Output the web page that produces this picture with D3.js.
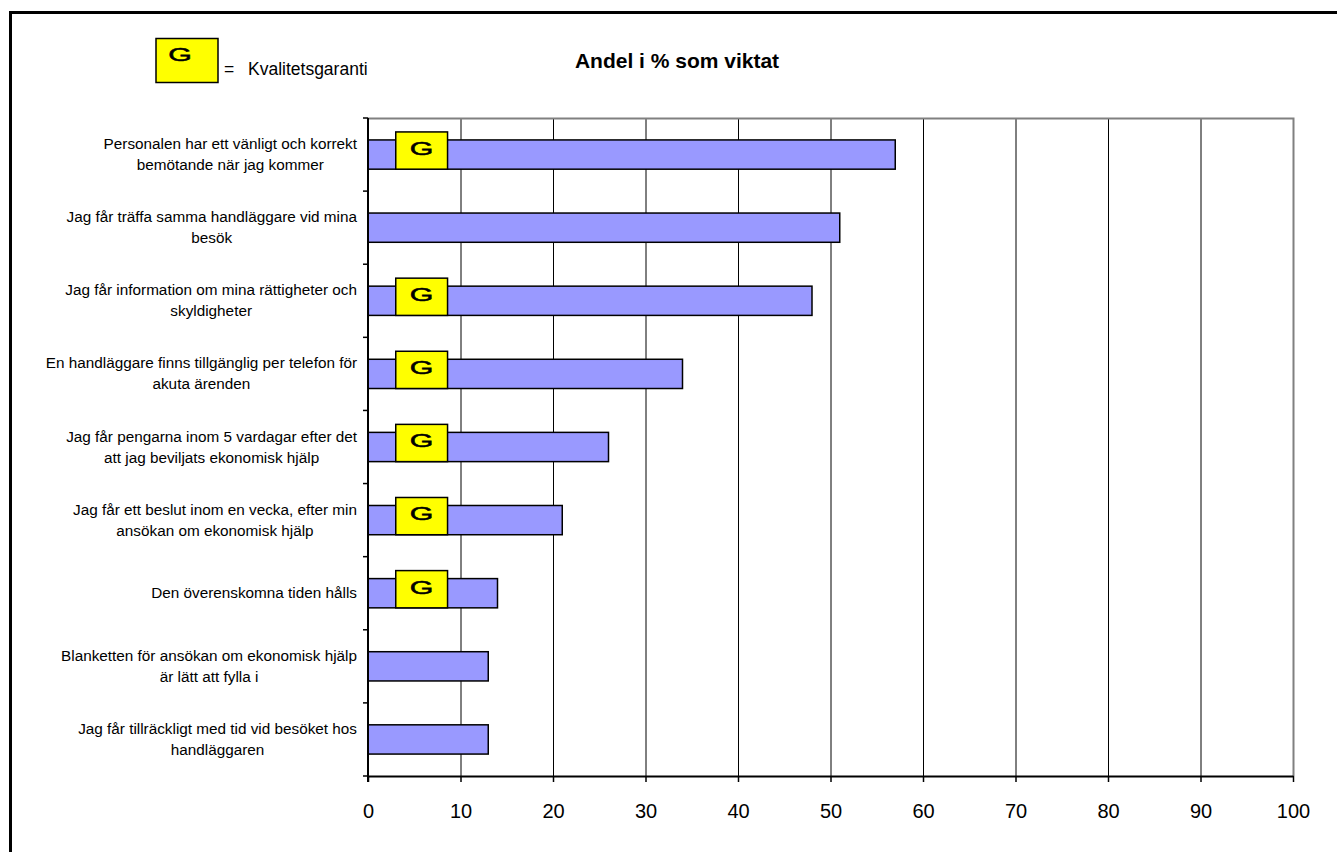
<!DOCTYPE html>
<html>
<head>
<meta charset="utf-8">
<script src="https://cdnjs.cloudflare.com/ajax/libs/d3/7.8.5/d3.min.js"></script>
<style>
  body { margin: 0; background: #fff; }
  svg { display: block; font-family: "Liberation Sans", Arial, sans-serif; }
</style>
</head>
<body>
<div id="chart"></div>
<script>
// categories (label lines as wrapped in the original)
var labels = [
    ["Personalen har ett vänligt och korrekt", "bemötande när jag kommer"],
    ["Jag får träffa samma handläggare vid mina", "besök"],
    ["Jag får information om mina rättigheter och", "skyldigheter"],
    ["En handläggare finns tillgänglig per telefon för", "akuta ärenden"],
    ["Jag får pengarna inom 5 vardagar efter det", "att jag beviljats ekonomisk hjälp"],
    ["Jag får ett beslut inom en vecka, efter min", "ansökan om ekonomisk hjälp"],
    ["Den överenskomna tiden hålls"],
    ["Blanketten för ansökan om ekonomisk hjälp", "är lätt att fylla i"],
    ["Jag får tillräckligt med tid vid besöket hos", "handläggaren"]
];
var values = [57, 51, 48, 34, 26, 21, 14, 13, 13];
var guarantee = [true, false, true, true, true, true, true, false, false];
var xTicks = [0, 10, 20, 30, 40, 50, 60, 70, 80, 90, 100];

var W = 1337, H = 852;
var pLeft = 368, pRight = 1293, pTop = 118, pBottom = 776;

var svg = d3.select("#chart").append("svg")
    .attr("width", W)
    .attr("height", H);

// outer frame (runs off the page on the right and bottom)
svg.append("rect")
    .attr("x", 10.5).attr("y", 12.5)
    .attr("width", 1340).attr("height", 850)
    .attr("fill", "none").attr("stroke", "#000").attr("stroke-width", 3);

var x = d3.scaleLinear().domain([0, 100]).range([pLeft, pRight]);
var y = d3.scaleBand().domain(d3.range(values.length)).range([pTop, pBottom]).paddingInner(0.6).paddingOuter(0.3);
var yb = d3.scaleBand().domain(d3.range(values.length)).range([pTop, pBottom]);

// gridlines
svg.append("g").selectAll("line")
    .data(xTicks.slice(1, -1))
    .enter().append("line")
    .attr("x1", function(d) { return x(d) + 0.5; })
    .attr("x2", function(d) { return x(d) + 0.5; })
    .attr("y1", pTop).attr("y2", pBottom)
    .attr("stroke", "#000").attr("stroke-width", 1);

// plot frame top/right in grey
svg.append("path")
    .attr("d", "M" + pLeft + "," + (pTop + 0.5) + "H" + (pRight + 0.5) + "V" + pBottom)
    .attr("fill", "none").attr("stroke", "#808080").attr("stroke-width", 2);

// bars
svg.append("g").selectAll("rect")
    .data(values)
    .enter().append("rect")
    .attr("x", x(0))
    .attr("y", function(d, i) { return y(i); })
    .attr("width", function(d) { return x(d) - x(0); })
    .attr("height", y.bandwidth())
    .attr("fill", "#9999FF")
    .attr("stroke", "#000").attr("stroke-width", 1.5);

// wide "G" letter like the original
function gLetter(sel, cx, cy) {
    sel.append("text")
        .attr("transform", "translate(" + cx + "," + cy + ") scale(1.6,1)")
        .attr("text-anchor", "middle")
        .attr("font-size", 19)
        .attr("fill", "#000").attr("stroke", "#000").attr("stroke-width", 0.5)
        .text("G");
}

// G boxes
var gb = svg.append("g").selectAll("g")
    .data(d3.range(values.length).filter(function(i) { return guarantee[i]; }))
    .enter().append("g");
gb.append("rect")
    .attr("x", x(3))
    .attr("y", function(i) { return y(i) - 8; })
    .attr("width", x(8.6) - x(3))
    .attr("height", y.bandwidth() + 8)
    .attr("fill", "#FFFF00")
    .attr("stroke", "#000").attr("stroke-width", 1.5);
gb.each(function(i) {
    gLetter(d3.select(this), (x(3) + x(8.6)) / 2, y(i) + 15);
});

// axes
var xAxis = svg.append("g")
    .attr("transform", "translate(0," + pBottom + ")")
    .call(d3.axisBottom(x).tickValues(xTicks).tickSize(6).tickSizeOuter(0));
xAxis.select(".domain").attr("stroke-width", 2);
xAxis.selectAll(".tick line").attr("stroke-width", 1.5);
xAxis.selectAll("text")
    .attr("y", 42).attr("dy", 0)
    .attr("font-size", 20).attr("font-family", "Liberation Sans, Arial, sans-serif").attr("fill", "#000");

var yAxis = svg.append("g").attr("transform", "translate(" + pLeft + ",0)");
yAxis.append("line")
    .attr("x1", 0).attr("x2", 0).attr("y1", pTop).attr("y2", pBottom + 6)
    .attr("stroke", "#000").attr("stroke-width", 2);
yAxis.selectAll("line.t")
    .data(d3.range(values.length + 1))
    .enter().append("line").attr("class", "t")
    .attr("x1", -5).attr("x2", 0)
    .attr("y1", function(i) { return i < values.length ? yb(i) : pBottom; })
    .attr("y2", function(i) { return i < values.length ? yb(i) : pBottom; })
    .attr("stroke", "#000").attr("stroke-width", 1.5);

// category labels: block right-aligned, lines centred within block
var labelRight = 357, lh = 21;
labels.forEach(function(lines, i) {
    var cy = yb(i) + yb.bandwidth() / 2;
    var g = svg.append("g");
    var t = g.append("text").attr("font-size", 15.3).attr("fill", "#000").attr("text-anchor", "middle");
    var maxW = 0;
    var spans = lines.map(function(l, k) {
        var s = t.append("tspan").text(l);
        maxW = Math.max(maxW, s.node().getComputedTextLength());
        return s;
    });
    var cx = labelRight - maxW / 2;
    var y0 = cy - (lines.length - 1) * lh / 2 + 5;
    spans.forEach(function(s, k) {
        s.attr("x", cx).attr("y", y0 + k * lh);
    });
});

// legend
svg.append("rect")
    .attr("x", 156).attr("y", 38.5).attr("width", 62).attr("height", 44)
    .attr("fill", "#FFFF00").attr("stroke", "#000").attr("stroke-width", 1.5);
gLetter(svg, 180, 61);
svg.append("text")
    .attr("x", 224).attr("y", 75)
    .attr("font-size", 17.5)
    .text("=");
svg.append("text")
    .attr("x", 248).attr("y", 75)
    .attr("font-size", 17.5)
    .text("Kvalitetsgaranti");

// title
svg.append("text")
    .attr("x", 677).attr("y", 68)
    .attr("text-anchor", "middle").attr("font-size", 21).attr("font-weight", "bold")
    .text("Andel i % som viktat");
</script>
</body>
</html>
